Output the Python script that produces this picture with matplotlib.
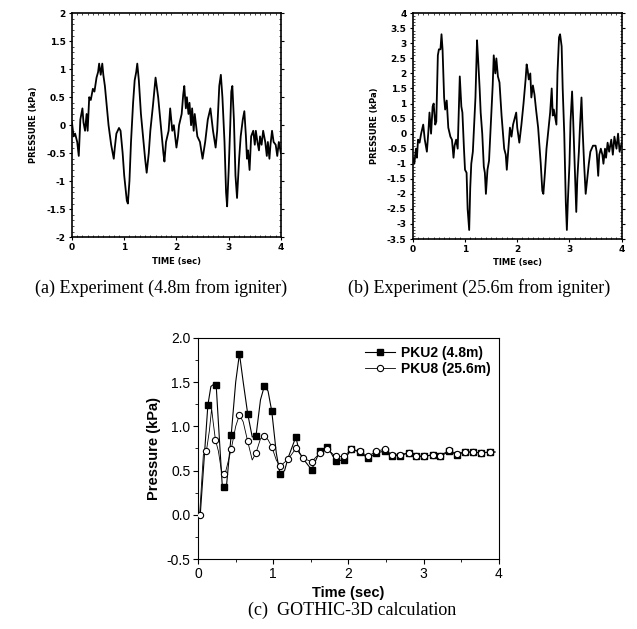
import numpy as np
import matplotlib
matplotlib.use("Agg")
import matplotlib.pyplot as plt
from matplotlib.ticker import MultipleLocator, FuncFormatter

plt.rcParams["axes.unicode_minus"] = False

# === DATA ===
# (a) experiment, 4.8 m from igniter
t_a = [0, 0.03, 0.06, 0.1, 0.13, 0.16, 0.2, 0.22, 0.25, 0.28,
       0.3, 0.33, 0.36, 0.4, 0.43, 0.47, 0.5, 0.52, 0.55, 0.58,
       0.6, 0.63, 0.7, 0.75, 0.8, 0.82, 0.85, 0.9, 0.93, 0.97,
       1.0, 1.05, 1.07, 1.1, 1.13, 1.17, 1.2, 1.23, 1.25, 1.28,
       1.32, 1.35, 1.4, 1.43, 1.47, 1.5, 1.55, 1.6, 1.65, 1.7,
       1.75, 1.77, 1.8, 1.85, 1.88, 1.92, 1.95, 2.0, 2.03, 2.05,
       2.1, 2.13, 2.15, 2.18, 2.2, 2.23, 2.25, 2.28, 2.3, 2.33,
       2.35, 2.4, 2.45, 2.5, 2.55, 2.6, 2.65, 2.7, 2.75, 2.78,
       2.82, 2.85, 2.88, 2.92, 2.95, 2.97, 3.0, 3.03, 3.05, 3.07,
       3.1, 3.13, 3.16, 3.2, 3.23, 3.27, 3.3, 3.33, 3.35, 3.37,
       3.4, 3.43, 3.47, 3.5, 3.52, 3.55, 3.58, 3.6, 3.63, 3.66,
       3.7, 3.73, 3.75, 3.78, 3.8, 3.83, 3.86, 3.9, 3.93, 3.96,
       4.0]
p_a = [0.05, -0.2, -0.15, -0.3, -0.55, 0.1, 0.3, 0.05, -0.1, 0.2,
       -0.1, 0.5, 0.45, 0.65, 0.6, 0.85, 0.95, 1.1, 0.9, 1.1,
       0.9, 0.7, 0.0, -0.35, -0.6, -0.4, -0.15, -0.05, -0.1, -0.5,
       -0.9, -1.35, -1.4, -1.0, -0.3, 0.4, 0.8, 0.95, 1.1, 0.8,
       0.2, -0.1, -0.6, -0.85, -0.5, -0.1, 0.35, 0.85, 0.5, 0.0,
       -0.5, -0.65, -0.3, -0.1, 0.3, -0.1, 0.0, -0.4, -0.2, 0.0,
       0.2, 0.55, 0.7, 0.3, 0.5, 0.2, 0.4, 0.0, 0.3, -0.1,
       0.2, -0.2, -0.3, -0.6, -0.3, 0.1, 0.3, -0.1, -0.4, -0.1,
       0.7, 0.9, 0.5, -0.3, -1.2, -1.45, -0.8, 0.0, 0.6, 0.7,
       0.1, -0.9, -1.3, -0.6, -0.2, 0.1, 0.25, -0.2, -0.6, -0.45,
       -0.8, -0.2, -0.1, -0.35, -0.1, -0.3, -0.45, -0.2, -0.35, -0.1,
       -0.3, -0.55, -0.3, -0.6, -0.35, -0.1, -0.3, -0.35, -0.55, -0.3,
       -0.5]

# (b) experiment, 25.6 m from igniter
t_b = [0, 0.03, 0.06, 0.08, 0.1, 0.13, 0.16, 0.2, 0.23, 0.25,
       0.27, 0.3, 0.32, 0.35, 0.38, 0.4, 0.43, 0.45, 0.48, 0.5,
       0.53, 0.55, 0.57, 0.6, 0.62, 0.65, 0.68, 0.72, 0.75, 0.78,
       0.8, 0.83, 0.86, 0.88, 0.9, 0.93, 0.95, 0.98, 1.0, 1.03,
       1.05, 1.08, 1.1, 1.12, 1.15, 1.18, 1.2, 1.23, 1.25, 1.28,
       1.3, 1.33, 1.36, 1.38, 1.4, 1.43, 1.46, 1.5, 1.53, 1.55,
       1.58, 1.6, 1.63, 1.66, 1.7, 1.75, 1.78, 1.8, 1.83, 1.86,
       1.89, 1.92, 1.95, 1.98, 2.0, 2.04, 2.08, 2.12, 2.16, 2.18,
       2.2, 2.22, 2.25, 2.27, 2.3, 2.33, 2.36, 2.4, 2.45, 2.48,
       2.5, 2.53, 2.56, 2.6, 2.63, 2.66, 2.68, 2.7, 2.73, 2.75,
       2.77, 2.8, 2.82, 2.85, 2.87, 2.9, 2.93, 2.95, 2.97, 3.0,
       3.02, 3.05, 3.07, 3.1, 3.13, 3.15, 3.18, 3.2, 3.23, 3.25,
       3.28, 3.31, 3.34, 3.37, 3.4, 3.45, 3.5, 3.52, 3.55, 3.57,
       3.6, 3.63, 3.65, 3.68, 3.7, 3.73, 3.76, 3.8, 3.83, 3.86,
       3.9, 3.93, 3.96, 4.0]
p_b = [-0.8, -1.0, -0.5, -0.8, -0.2, -0.3, 0.0, 0.3, -0.2, -0.4,
       -0.6, 0.1, 0.7, 0.0, 0.9, 1.0, 0.3, 0.4, 2.6, 2.8,
       2.8, 3.3, 2.8, 1.2, 0.8, 1.1, 0.2, -0.1, -0.2, -0.8,
       -0.4, -0.2, -0.5, 0.7, 1.9, 0.9, 0.7, -0.5, -1.2, -1.3,
       -2.5, -3.2, -1.8, -1.0, -0.6, 0.5, 1.2, 3.1, 2.5, 1.5,
       0.7, 0.0, -1.1, -1.3, -2.0, -1.2, -0.9, 0.5, 1.6, 2.6,
       2.0, 2.5, 1.9, 1.7, 0.6, -0.5, -0.7, -1.2, -0.5, 0.2,
       -0.1, 0.3, 0.5, 0.7, 0.2, -0.3, 0.3, 1.0, 1.8, 2.3,
       2.1, 1.8, 2.0, 1.2, 1.6, 1.3, 0.8, 0.2, -1.0, -1.9,
       -2.0, -1.3, -0.5, 0.2, 0.7, 1.5, 0.6, 0.8, 0.5, 0.3,
       2.0, 3.2, 3.3, 2.9, 1.5, 0.0, -2.3, -3.2, -2.2, -1.0,
       0.4, 1.4, 0.5, -1.0, -2.6, -1.5, -0.6, 0.2, 1.2, 0.2,
       -1.0, -2.0, -1.5, -1.0, -0.6, -0.4, -0.4, -0.6, -1.4, -0.7,
       -0.5, -0.7, -1.0, -0.5, -0.8, -0.3, -0.6, -0.2, -0.7, -0.1,
       -0.5, 0.0, -0.6, -0.3]

# (c) GOTHIC-3D calculation
t_pku2 = [0, 0.03, 0.13, 0.17, 0.2, 0.24, 0.28, 0.32, 0.35, 0.38,
          0.44, 0.5, 0.55, 0.6, 0.66, 0.72, 0.77, 0.83, 0.88, 0.93,
          0.98, 1.04, 1.09, 1.15, 1.2, 1.3, 1.35, 1.41, 1.51, 1.62,
          1.72, 1.83, 1.94, 2.04, 2.15, 2.26, 2.37, 2.48, 2.58, 2.69,
          2.8, 2.9, 3.01, 3.12, 3.22, 3.34, 3.44, 3.55, 3.66, 3.76,
          3.88, 3.95]
p_pku2 = [0.0, 0.02, 1.24, 1.45, 1.47, 1.47, 0.9, 0.35, 0.32, 0.35,
          0.9, 1.5, 1.82, 1.5, 1.14, 0.88, 0.89, 1.3, 1.45, 1.4,
          1.17, 0.7, 0.46, 0.5, 0.65, 0.88, 0.7, 0.62, 0.51, 0.72,
          0.77, 0.61, 0.62, 0.74, 0.71, 0.64, 0.7, 0.72, 0.67, 0.67,
          0.7, 0.66, 0.66, 0.68, 0.66, 0.72, 0.68, 0.71, 0.71, 0.7,
          0.71, 0.71]
mark_pku2 = [2, 5, 8, 10, 12, 14, 16, 18, 20, 22, 25, 28, 29, 30, 31, 32,
             33, 34, 35, 36, 37, 38, 39, 40, 41, 42, 43, 44, 45, 46, 47,
             48, 49, 50]

t_pku8 = [0, 0.02, 0.07, 0.11, 0.15, 0.18, 0.2, 0.23, 0.27, 0.31,
          0.34, 0.37, 0.44, 0.5, 0.55, 0.6, 0.66, 0.72, 0.77, 0.83,
          0.88, 0.93, 0.98, 1.04, 1.09, 1.2, 1.3, 1.4, 1.51, 1.62,
          1.72, 1.83, 1.94, 2.04, 2.15, 2.26, 2.37, 2.48, 2.58, 2.69,
          2.8, 2.9, 3.01, 3.12, 3.22, 3.34, 3.44, 3.55, 3.66, 3.76,
          3.88, 3.95]
p_pku8 = [0.0, 0.0, 0.68, 0.72, 0.95, 1.2, 1.05, 0.85, 0.72, 0.5,
          0.46, 0.5, 0.74, 1.0, 1.13, 1.05, 0.83, 0.62, 0.7, 0.86,
          0.89, 0.85, 0.77, 0.62, 0.55, 0.63, 0.75, 0.64, 0.6, 0.7,
          0.74, 0.66, 0.66, 0.74, 0.72, 0.66, 0.72, 0.74, 0.68, 0.68,
          0.7, 0.67, 0.66, 0.68, 0.67, 0.73, 0.69, 0.71, 0.71, 0.7,
          0.71, 0.71]
mark_pku8 = [1, 3, 7, 10, 12, 14, 16, 18, 20, 22, 24, 25, 26, 27, 28, 29,
             30, 31, 32, 33, 34, 35, 36, 37, 38, 39, 40, 41, 42, 43, 44,
             45, 46, 47, 48, 49, 50]

CAPTIONS = ["(a) Experiment (4.8m from igniter)",
            "(b) Experiment (25.6m from igniter)",
            "(c)  GOTHIC-3D calculation"]
# =============================================

SERIF = "Liberation Serif"
SANS = "Liberation Sans"


def style_experiment(ax, ylim, ystep):
    ax.set_xlim(0, 4)
    ax.set_ylim(*ylim)
    ax.xaxis.set_major_locator(MultipleLocator(1))
    ax.xaxis.set_minor_locator(MultipleLocator(0.1))
    ax.yaxis.set_major_locator(MultipleLocator(ystep))
    ax.yaxis.set_minor_locator(MultipleLocator(ystep / 5))
    ax.yaxis.set_major_formatter(FuncFormatter(lambda v, _: f"{v:g}"))
    ax.tick_params(which="major", direction="out", length=2.5, width=0.8,
                   labelsize=6.5, pad=2, right=True)
    ax.tick_params(which="minor", direction="in", length=1.2, width=0.5,
                   right=True, top=True)
    for lab in ax.get_xticklabels() + ax.get_yticklabels():
        lab.set_fontweight("bold")
        lab.set_family("DejaVu Sans")
    for sp in ax.spines.values():
        sp.set_linewidth(1.2)
    ax.set_xlabel("TIME (sec)", fontsize=6, fontweight="bold",
                  family="DejaVu Sans", labelpad=3)
    ax.set_ylabel("PRESSURE (kPa)", fontsize=6, fontweight="bold",
                  family="DejaVu Sans", labelpad=6)


fig = plt.figure(figsize=(6.37, 6.29), dpi=100)

# (a)
ax_a = fig.add_axes([0.113, 0.623, 0.328, 0.356])
ax_a.plot(t_a, p_a, color="black", lw=1.3)
style_experiment(ax_a, (-2, 2), 0.5)

# (b)
ax_b = fig.add_axes([0.648, 0.620, 0.328, 0.359])
ax_b.plot(t_b, p_b, color="black", lw=1.3)
style_experiment(ax_b, (-3.5, 4), 0.5)

# (c)
ax_c = fig.add_axes([0.311, 0.111, 0.472, 0.352])
ax_c.plot(t_pku2, p_pku2, color="black", lw=0.8, marker="s", ms=4.5,
          mfc="black", mec="black", markevery=mark_pku2, label="PKU2 (4.8m)",
          zorder=2)
ax_c.plot(t_pku8, p_pku8, color="black", lw=0.6, marker="o", ms=4.5,
          mfc="white", mec="black", mew=0.8, markevery=mark_pku8,
          label="PKU8 (25.6m)", zorder=3)
ax_c.set_xlim(0, 4)
ax_c.set_ylim(-0.5, 2.0)
ax_c.xaxis.set_major_locator(MultipleLocator(1))
ax_c.xaxis.set_minor_locator(MultipleLocator(0.5))
ax_c.yaxis.set_major_locator(MultipleLocator(0.5))
ax_c.yaxis.set_minor_locator(MultipleLocator(0.25))
ax_c.yaxis.set_major_formatter(FuncFormatter(lambda v, _: f"{v:.1f}"))
ax_c.tick_params(which="major", direction="out", length=3.5, width=0.8,
                 labelsize=10, pad=2)
ax_c.tick_params(which="minor", direction="out", length=2, width=0.6)
for lab in ax_c.get_xticklabels() + ax_c.get_yticklabels():
    lab.set_family(SANS)
ax_c.set_xlabel("Time (sec)", fontsize=10.5, fontweight="bold", family=SANS,
                labelpad=4)
ax_c.set_ylabel("Pressure (kPa)", fontsize=10.5, fontweight="bold", family=SANS,
                labelpad=4)
leg = ax_c.legend(loc="upper right", frameon=False, handlelength=2.2,
                  handletextpad=0.4, borderaxespad=0.2, labelspacing=0.15,
                  prop={"family": SANS, "weight": "bold", "size": 10})

# captions
fig.text(0.253, 1 - 288 / 629, CAPTIONS[0], ha="center", va="center",
         family=SERIF, fontsize=13)
fig.text(0.752, 1 - 288 / 629, CAPTIONS[1], ha="center", va="center",
         family=SERIF, fontsize=13)
fig.text(0.553, 1 - 610 / 629, CAPTIONS[2], ha="center", va="center",
         family=SERIF, fontsize=13)

fig.savefig("out.png", dpi=100)
